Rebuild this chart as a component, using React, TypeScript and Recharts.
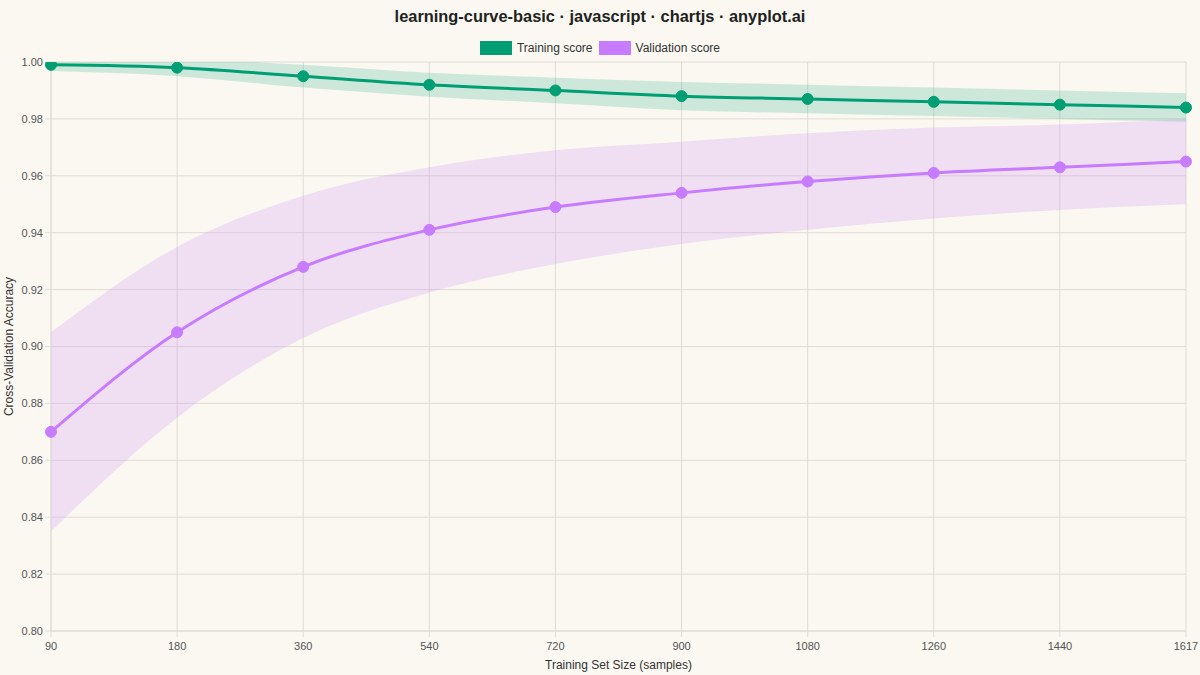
import { ComposedChart, Line, Area, XAxis, YAxis, CartesianGrid } from 'recharts';

// training set sizes (x categories)
const sizes = ['90', '180', '360', '540', '720', '900', '1080', '1260', '1440', '1617'];

// mean and std of the cross-validation scores
const trainMean = [0.999, 0.998, 0.995, 0.992, 0.99, 0.988, 0.987, 0.986, 0.985, 0.984];
const trainStd = [0.0022, 0.003, 0.004, 0.0042, 0.0045, 0.005, 0.005, 0.005, 0.005, 0.005];
const valMean = [0.87, 0.905, 0.928, 0.941, 0.949, 0.954, 0.958, 0.961, 0.963, 0.965];
const valStd = [0.035, 0.03, 0.025, 0.022, 0.02, 0.018, 0.017, 0.016, 0.015, 0.015];

const yTicks = [0.8, 0.82, 0.84, 0.86, 0.88, 0.9, 0.92, 0.94, 0.96, 0.98, 1.0];

const COLORS = {
  train: '#009E73',
  val: '#C77CFF',
  bg: '#FAF8F1',
  grid: '#E0DCD4',
  text: '#555',
};

const FONT = '"Liberation Sans", Arial, Helvetica, sans-serif';

const data = sizes.map((size, i) => ({
  size,
  train: trainMean[i],
  trainBand: [trainMean[i] - trainStd[i], trainMean[i] + trainStd[i]],
  val: valMean[i],
  valBand: [valMean[i] - valStd[i], valMean[i] + valStd[i]],
}));

function LegendItem({ color, label }: { color: string; label: string }) {
  return (
    <span style={{ display: 'inline-flex', alignItems: 'center', margin: '0 3px' }}>
      <span style={{ width: 32, height: 14, background: color, display: 'inline-block', marginRight: 5 }} />
      <span style={{ fontSize: 12, color: '#333' }}>{label}</span>
    </span>
  );
}

export default function App() {
  return (
    <div
      style={{
        position: 'absolute',
        left: 0,
        top: 0,
        width: 1200,
        height: 675,
        background: COLORS.bg,
        fontFamily: FONT,
        overflow: 'hidden',
      }}
    >
      <div
        style={{
          position: 'absolute',
          top: 7,
          width: 1200,
          textAlign: 'center',
          fontSize: 16.4,
          fontWeight: 'bold',
          color: '#222',
        }}
      >
        learning-curve-basic · javascript · chartjs · anyplot.ai
      </div>
      <div
        style={{
          position: 'absolute',
          top: 41,
          width: 1200,
          display: 'flex',
          justifyContent: 'center',
        }}
      >
        <LegendItem color={COLORS.train} label="Training score" />
        <LegendItem color={COLORS.val} label="Validation score" />
      </div>
      <ComposedChart
        width={1200}
        height={675}
        data={data}
        margin={{ top: 62, right: 14, bottom: 0, left: 0 }}
        style={{ fontFamily: FONT }}
      >
        <CartesianGrid stroke={COLORS.grid} strokeWidth={1} />
        <XAxis
          dataKey="size"
          scale="point"
          height={44}
          stroke={COLORS.grid}
          tickSize={6}
          tickMargin={5}
          tick={{ fontSize: 11, fill: COLORS.text }}
          interval={0}
          label={{ value: 'Training Set Size (samples)', position: 'insideBottom', offset: 6, fontSize: 12, fill: '#333' }}
        />
        <YAxis
          width={51}
          domain={[0.8, 1.0]}
          ticks={yTicks}
          allowDataOverflow
          stroke={COLORS.grid}
          tickSize={6}
          tickMargin={2}
          tick={{ fontSize: 11, fill: COLORS.text }}
          tickFormatter={(v: number) => v.toFixed(2)}
          label={{ value: 'Cross-Validation Accuracy', angle: -90, position: 'insideLeft', offset: 9, fontSize: 12, fill: '#333', style: { textAnchor: 'middle' } }}
        />
        <Area
          dataKey="trainBand"
          type="monotone"
          stroke="none"
          fill={COLORS.train}
          fillOpacity={0.18}
          isAnimationActive={false}
          activeDot={false}
        />
        <Area
          dataKey="valBand"
          type="monotone"
          stroke="none"
          fill={COLORS.val}
          fillOpacity={0.2}
          isAnimationActive={false}
          activeDot={false}
        />
        <Line
          dataKey="train"
          type="monotone"
          stroke={COLORS.train}
          strokeWidth={3}
          dot={{ r: 5.5, fill: COLORS.train, stroke: COLORS.train, strokeWidth: 1 }}
          isAnimationActive={false}
        />
        <Line
          dataKey="val"
          type="monotone"
          stroke={COLORS.val}
          strokeWidth={3}
          dot={{ r: 5.5, fill: COLORS.val, stroke: COLORS.val, strokeWidth: 1 }}
          isAnimationActive={false}
        />
      </ComposedChart>
    </div>
  );
}
